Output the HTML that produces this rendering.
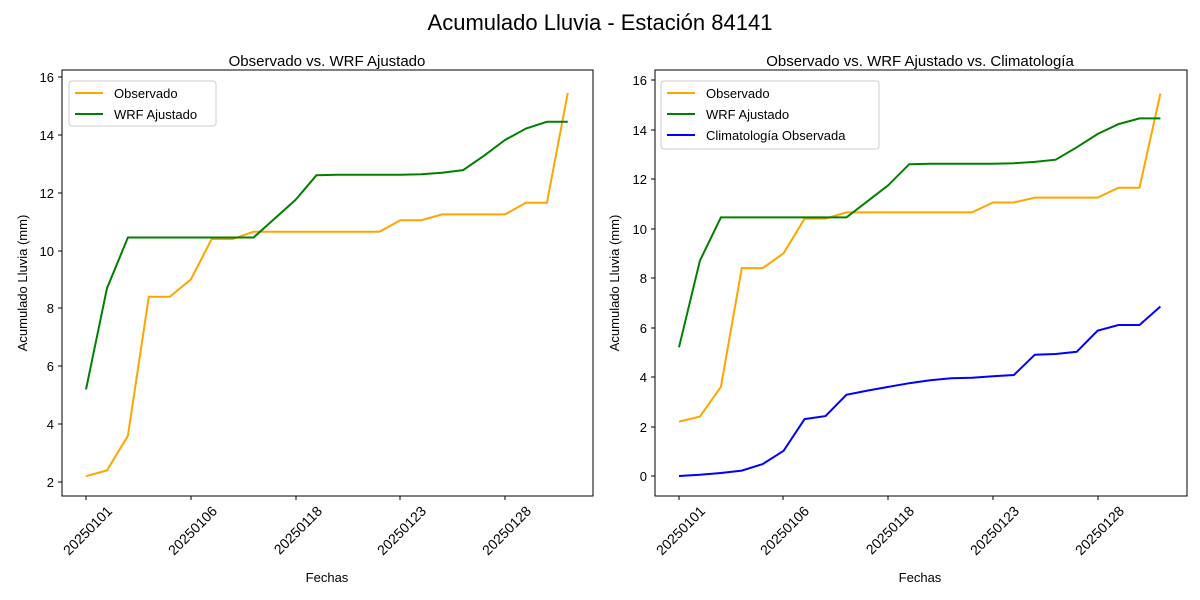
<!DOCTYPE html>
<html><head><meta charset="utf-8"><style>
body{margin:0;background:#fff;}
svg{display:block;font-family:"Liberation Sans","DejaVu Sans",sans-serif;}
</style></head><body>
<svg id="s" width="1200" height="600" xmlns="http://www.w3.org/2000/svg">
<rect width="1200" height="600" fill="#fff"/>
<text x="600" y="30" font-size="22" text-anchor="middle">Acumulado Lluvia - Estación 84141</text>
<text x="327" y="66" font-size="15" text-anchor="middle">Observado vs. WRF Ajustado</text>
<text x="920" y="66" font-size="15" text-anchor="middle">Observado vs. WRF Ajustado vs. Climatología</text>
<g id="L"></g><g id="R"></g>
<rect x="62" y="70" width="531" height="426" fill="none" stroke="#000" stroke-width="1"/>
<rect x="655" y="70" width="532" height="426" fill="none" stroke="#000" stroke-width="1"/>
<g font-size="13">
<text x="327" y="582" text-anchor="middle">Fechas</text>
<text x="920" y="582" text-anchor="middle">Fechas</text>
<text transform="translate(27,283) rotate(-90)" text-anchor="middle">Acumulado Lluvia (mm)</text>
<text transform="translate(619,283) rotate(-90)" text-anchor="middle">Acumulado Lluvia (mm)</text>
</g>
<g font-size="13" text-anchor="end">
<text x="54" y="487">2</text><text x="54" y="429">4</text><text x="54" y="371">6</text><text x="54" y="313">8</text><text x="54" y="256">10</text><text x="54" y="198">12</text><text x="54" y="140">14</text><text x="54" y="82">16</text>
<text x="647" y="481">0</text><text x="647" y="432">2</text><text x="647" y="382">4</text><text x="647" y="333">6</text><text x="647" y="283">8</text><text x="647" y="234">10</text><text x="647" y="184">12</text><text x="647" y="135">14</text><text x="647" y="85">16</text>
</g>
<g stroke="#000" stroke-width="1">
<line x1="58" x2="62" y1="482" y2="482"/><line x1="58" x2="62" y1="424" y2="424"/><line x1="58" x2="62" y1="366" y2="366"/><line x1="58" x2="62" y1="308" y2="308"/><line x1="58" x2="62" y1="251" y2="251"/><line x1="58" x2="62" y1="193" y2="193"/><line x1="58" x2="62" y1="135" y2="135"/><line x1="58" x2="62" y1="77" y2="77"/>
<line x1="651" x2="655" y1="476" y2="476"/><line x1="651" x2="655" y1="427" y2="427"/><line x1="651" x2="655" y1="377" y2="377"/><line x1="651" x2="655" y1="328" y2="328"/><line x1="651" x2="655" y1="278" y2="278"/><line x1="651" x2="655" y1="229" y2="229"/><line x1="651" x2="655" y1="179" y2="179"/><line x1="651" x2="655" y1="130" y2="130"/><line x1="651" x2="655" y1="80" y2="80"/>
<line x1="86" x2="86" y1="496" y2="500"/><line x1="191" x2="191" y1="496" y2="500"/><line x1="296" x2="296" y1="496" y2="500"/><line x1="400" x2="400" y1="496" y2="500"/><line x1="505" x2="505" y1="496" y2="500"/>
<line x1="679" x2="679" y1="496" y2="500"/><line x1="783" x2="783" y1="496" y2="500"/><line x1="888" x2="888" y1="496" y2="500"/><line x1="993" x2="993" y1="496" y2="500"/><line x1="1098" x2="1098" y1="496" y2="500"/>
</g>
<g font-size="14" text-anchor="end">
<text transform="translate(113,512) rotate(-45)">20250101</text>
<text transform="translate(218,512) rotate(-45)">20250106</text>
<text transform="translate(323,512) rotate(-45)">20250118</text>
<text transform="translate(427,512) rotate(-45)">20250123</text>
<text transform="translate(532,512) rotate(-45)">20250128</text>
<text transform="translate(706,512) rotate(-45)">20250101</text>
<text transform="translate(810,512) rotate(-45)">20250106</text>
<text transform="translate(915,512) rotate(-45)">20250118</text>
<text transform="translate(1020,512) rotate(-45)">20250123</text>
<text transform="translate(1125,512) rotate(-45)">20250128</text>
</g>
<g font-size="13">
<rect x="69" y="81" width="147" height="45" rx="3" fill="#fff" stroke="#ccc"/>
<line x1="75" x2="103" y1="93" y2="93" stroke="orange" stroke-width="2"/><text x="114" y="98">Observado</text>
<line x1="75" x2="103" y1="114" y2="114" stroke="green" stroke-width="2"/><text x="114" y="119">WRF Ajustado</text>
<rect x="661" y="81" width="218" height="68" rx="3" fill="#fff" stroke="#ccc"/>
<line x1="667" x2="695" y1="93" y2="93" stroke="orange" stroke-width="2"/><text x="706" y="98">Observado</text>
<line x1="667" x2="695" y1="114" y2="114" stroke="green" stroke-width="2"/><text x="706" y="119">WRF Ajustado</text>
<line x1="667" x2="695" y1="135" y2="135" stroke="blue" stroke-width="2"/><text x="706" y="140">Climatología Observada</text>
</g>
</svg>
<script>
var obs=[2.2,2.4,3.6,8.4,8.4,9.0,10.4,10.4,10.65,10.65,10.65,10.65,10.65,10.65,10.65,11.05,11.05,11.25,11.25,11.25,11.25,11.65,11.65,15.45];
var wrf=[5.2,8.7,10.45,10.45,10.45,10.45,10.45,10.45,10.45,11.1,11.75,12.6,12.62,12.62,12.62,12.62,12.64,12.69,12.78,13.28,13.82,14.22,14.45,14.45];
var cli=[0,0.05,0.12,0.22,0.48,1.02,2.3,2.42,3.28,3.45,3.6,3.75,3.87,3.95,3.97,4.03,4.08,4.9,4.93,5.02,5.87,6.1,6.1,6.85];
function pl(g,d,x0,dx,y0,dy,c){var p=d.map(function(v,i){return (x0+i*dx).toFixed(1)+","+(y0-v*dy).toFixed(1)}).join(" ");
var e=document.createElementNS("http://www.w3.org/2000/svg","polyline");e.setAttribute("points",p);e.setAttribute("fill","none");e.setAttribute("stroke",c);e.setAttribute("stroke-width","2");document.getElementById(g).appendChild(e);}
var ly=482+2*28.93;
pl("L",obs,86,20.95,ly,28.93,"orange");pl("L",wrf,86,20.95,ly,28.93,"green");
pl("R",obs,679,20.93,476,24.75,"orange");pl("R",wrf,679,20.93,476,24.75,"green");pl("R",cli,679,20.93,476,24.75,"blue");
</script>
</body></html>
